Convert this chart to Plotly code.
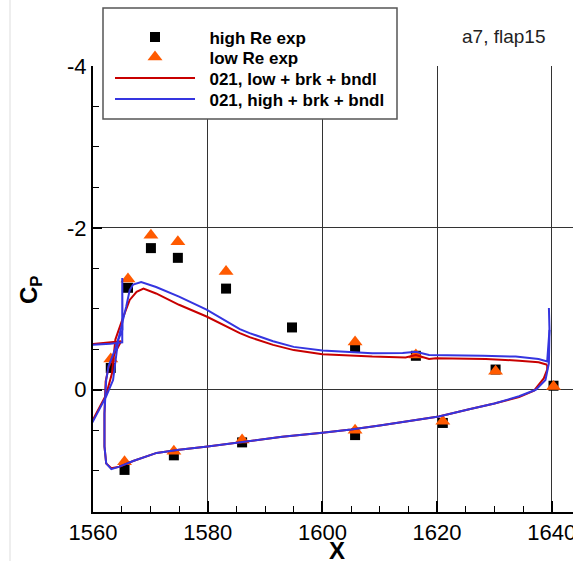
import plotly.graph_objects as go

# ---------------- data ----------------
high_x = [1563.1, 1565.5, 1566.1, 1570.1, 1574.1, 1574.8, 1583.2, 1586.0, 1594.7,
          1605.7, 1605.7, 1616.3, 1621.0, 1630.2, 1640.3]
high_y = [-0.27, 0.99, -1.26, -1.75, 0.81, -1.63, -1.25, 0.65, -0.77,
          -0.52, 0.56, -0.42, 0.41, -0.25, -0.05]

low_x = [1563.1, 1565.5, 1566.1, 1570.1, 1574.1, 1574.8, 1583.2, 1586.0,
         1605.7, 1605.7, 1616.3, 1621.0, 1630.2, 1640.3]
low_y = [-0.38, 0.89, -1.37, -1.91, 0.76, -1.83, -1.46, 0.62,
         -0.59, 0.50, -0.43, 0.39, -0.23, -0.04]

# CFD "low" (red): suction side from TE to LE region
red_up_x = [1639.2, 1637.7, 1634.3, 1628.5, 1619.8, 1618.6, 1616.3, 1614.5, 1608.7,
            1600.0, 1595.0, 1591.4, 1587.3, 1585.6, 1579.8, 1575.0, 1571.0, 1568.8,
            1567.6, 1566.4, 1565.3, 1563.9, 1563.3, 1562.3, 1560.0, 1557.0]
red_up_y = [-0.31, -0.34, -0.36, -0.38, -0.39, -0.38, -0.43, -0.40, -0.41,
            -0.44, -0.49, -0.555, -0.65, -0.70, -0.905, -1.05, -1.19, -1.25,
            -1.21, -1.11, -0.905, -0.62, -0.20, 0.06, 0.37, 0.75]
# CFD "low" (red): cove + pressure side to TE
red_lo_x = [1555.0, 1560.0, 1564.9, 1563.8, 1562.7, 1562.2, 1562.0, 1562.0, 1562.3,
            1563.2, 1564.6, 1567.0, 1571.1, 1575.0, 1580.0, 1587.3, 1593.0, 1600.0,
            1605.0, 1610.0, 1616.9, 1620.3, 1625.6, 1630.0, 1634.3, 1636.9, 1638.6,
            1639.2, 1639.2]
red_lo_y = [-0.56, -0.565, -0.60, -0.45, -0.27, -0.10, 0.30, 0.70, 0.91,
            0.97, 0.95, 0.88, 0.78, 0.74, 0.70, 0.63, 0.58, 0.53,
            0.49, 0.44, 0.37, 0.33, 0.24, 0.17, 0.09, 0.01, -0.14,
            -0.25, -0.31]

# CFD "high" (blue): suction side from TE spike to LE region
blue_up_x = [1639.6, 1639.2, 1637.7, 1633.7, 1628.0, 1620.3, 1618.6, 1616.3, 1614.0,
             1608.7, 1600.0, 1595.0, 1591.4, 1587.3, 1585.6, 1579.8, 1575.0, 1571.0,
             1568.4, 1567.0, 1566.4, 1565.8, 1564.4, 1563.5, 1562.3, 1560.0, 1557.0]
blue_up_y = [-0.74, -0.35, -0.38, -0.41, -0.42, -0.43, -0.43, -0.47, -0.455,
             -0.45, -0.485, -0.53, -0.60, -0.70, -0.75, -0.99, -1.15, -1.27,
             -1.33, -1.30, -1.23, -1.03, -0.62, -0.12, 0.08, 0.39, 0.75]
# CFD "high" (blue): cove + LE spike + pressure side + TE spike
blue_lo_x = [1555.0, 1560.0, 1563.0, 1565.1, 1565.1, 1565.15, 1564.4, 1563.8, 1562.7,
             1562.3, 1562.0, 1562.0, 1562.3, 1563.2, 1564.6, 1567.0, 1571.1, 1575.0,
             1580.0, 1587.3, 1593.0, 1600.0, 1605.0, 1610.0, 1616.9, 1620.3, 1625.6,
             1630.0, 1634.3, 1637.2, 1638.9, 1639.5, 1639.6, 1639.5]
blue_lo_y = [-0.55, -0.555, -0.57, -0.585, -1.38, -0.74, -0.62, -0.49, -0.29,
             -0.12, 0.29, 0.70, 0.91, 0.98, 0.95, 0.88, 0.78, 0.74,
             0.70, 0.63, 0.58, 0.53, 0.49, 0.44, 0.37, 0.33, 0.24,
             0.17, 0.08, 0.0, -0.12, -0.33, -0.74, -1.01]

x_ticks = [1560, 1580, 1600, 1620, 1640]
y_ticks = [-4, -2, 0]

FONT = "Liberation Sans, Arial, Helvetica, sans-serif"

# plot-area geometry in pixels
L, R, T, B = 93, 573, 66, 512
W_PA, H_PA = R - L, B - T


def px(xp):
    return (xp - L) / W_PA


def py(yp):
    return (B - yp) / H_PA


SP = "  "

fig = go.Figure()
fig.add_trace(go.Scatter(x=high_x, y=high_y, mode="markers", name=SP + "high Re exp",
                         legend="legend",
                         marker=dict(symbol="square", size=10, color="black")))
fig.add_trace(go.Scatter(x=low_x, y=low_y, mode="markers", name=SP + "low Re exp",
                         legend="legend2",
                         marker=dict(symbol="triangle-up", size=13, color="#FF5A00")))
fig.add_trace(go.Scatter(x=red_up_x + [None] + red_lo_x, y=red_up_y + [None] + red_lo_y,
                         mode="lines", name=SP + "021, low + brk + bndl", legend="legend3",
                         line=dict(color="#C80000", width=2)))
fig.add_trace(go.Scatter(x=blue_up_x + [None] + blue_lo_x, y=blue_up_y + [None] + blue_lo_y,
                         mode="lines", name=SP + "021, high + brk + bndl", legend="legend4",
                         line=dict(color="#3535E0", width=2)))


def leg(row_center):
    return dict(x=px(110), y=py(row_center - 17.5), xanchor="left", yanchor="top",
                bgcolor="rgba(0,0,0,0)", borderwidth=0,
                font=dict(size=17, family=FONT, weight="bold"),
                itemwidth=80, tracegroupgap=0)


fig.update_layout(
    width=573, height=561,
    margin=dict(l=L, r=573 - R, t=T, b=561 - B, autoexpand=False),
    paper_bgcolor="white", plot_bgcolor="white",
    font=dict(family=FONT, color="black"),
    showlegend=True,
    legend=leg(37), legend2=leg(57), legend3=leg(78), legend4=leg(99),
    annotations=[
        dict(text="a7, flap15", xref="paper", yref="paper",
             x=px(503), y=py(37), xanchor="center", yanchor="middle", showarrow=False,
             font=dict(size=19, family=FONT, color="#222")),
        dict(text="<b>X</b>", xref="paper", yref="paper",
             x=px(337), y=py(550), xanchor="center", yanchor="middle", showarrow=False,
             font=dict(size=24, family=FONT, color="black")),
        dict(text="<b>C<sub>P</sub></b>", xref="paper", yref="paper", textangle=-90,
             x=px(30), y=py(290), xanchor="center", yanchor="middle", showarrow=False,
             font=dict(size=24, family=FONT, color="black")),
    ],
    shapes=[
        dict(type="line", xref="paper", yref="paper",
             x0=px(10), x1=px(10), y0=py(561), y1=py(0),
             line=dict(color="#dddddd", width=1)),
        dict(type="rect", xref="paper", yref="paper", layer="above",
             x0=px(103), x1=px(397), y0=py(119), y1=py(8),
             fillcolor="white", line=dict(color="#555555", width=1.5)),
    ],
)

fig.update_xaxes(
    range=[1560, 1643.7], tickvals=x_ticks, ticks="inside", ticklen=11, tickwidth=2,
    tickcolor="black", showline=True, linecolor="black", linewidth=2,
    showgrid=True, gridcolor="#333333", gridwidth=1, zeroline=False,
    tickfont=dict(size=22, family=FONT), automargin=False, ticklabeloverflow="allow",
    minor=dict(dtick=5, tick0=1560, ticks="inside", ticklen=6, tickwidth=1,
               tickcolor="black", showgrid=False),
)
fig.update_yaxes(
    range=[1.51, -4], tickvals=y_ticks, ticktext=["-4", "-2", "0"],
    ticks="inside", ticklen=9, tickwidth=2,
    tickcolor="black", showline=True, linecolor="black", linewidth=2,
    showgrid=True, gridcolor="#333333", gridwidth=1, zeroline=False,
    tickfont=dict(size=22, family=FONT), automargin=False,
    minor=dict(dtick=0.5, tick0=0, ticks="inside", ticklen=6, tickwidth=1,
               tickcolor="black", showgrid=False),
)

fig.write_html("out.html", config={"displayModeBar": False},
               post_script="document.body.style.margin='0px';")
